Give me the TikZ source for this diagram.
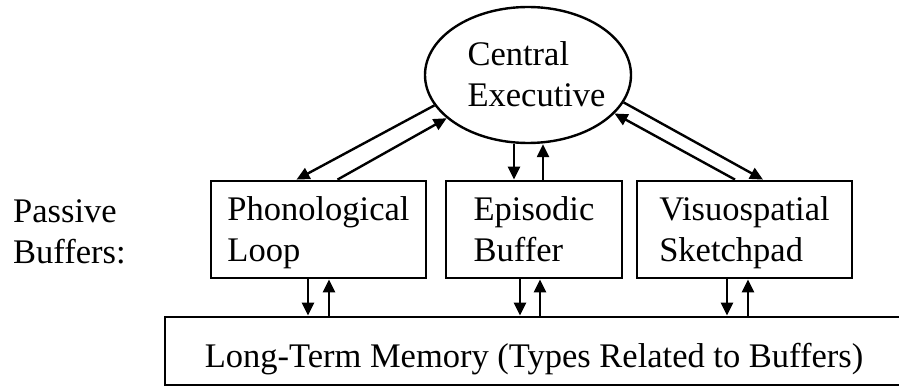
\documentclass[tikz,border=0pt]{standalone}
\usepackage{fontspec}
\setmainfont{Liberation Serif}
\newfontfamily\diagfont{Liberation Serif}
\usetikzlibrary{shapes.geometric,arrows.meta}
\begin{document}
\begin{tikzpicture}[x=1pt, y=-1pt,
      every node/.style = {font=\diagfont\fontsize{34.5}{41}\selectfont, align=left},
      buffer/.style = {draw, line width=2.8pt, shape=rectangle, text depth=0pt,
                       minimum width=215pt, minimum height=97pt},
      link/.style = {line width=2.4pt, -{Triangle[length=13pt,width=12pt]}}]
    \useasboundingbox (0,0) rectangle (899,387);
    \node[draw, line width=2.4pt, shape=ellipse, minimum width=206pt, minimum height=136pt] (ce) at (528,75) {};
    \node (ce label) at (536.5,74) {Central\\Executive};
    \node[anchor=west, inner sep=0pt] (passive) at (13,232) {Passive\\Buffers:};
    \node[buffer] (phon) at (318.5,229.5) {Phonological\\Loop};
    \node[buffer, minimum width=176pt] (epi) at (534,229.5) {Episodic\\Buffer};
    \node[buffer] (visuo) at (744.5,229.5) {Visuospatial\\Sketchpad};
    \node[buffer, minimum width=738pt, minimum height=68pt] (ltm) at (534,351) {};
    \node[anchor=base] (ltm label) at (534,367) {Long-Term Memory (Types Related to Buffers)};
    \draw[link] (ce.198) -- ([xshift=-22pt]phon.north);
    \draw[link] ([xshift=19pt]phon.north) -- (ce.208);
    \draw[link] ([xshift=-20pt]epi.north |- ce.south) -- ([xshift=-20pt]epi.north);
    \draw[link] ([xshift=9pt]epi.north) -- ([xshift=9pt]epi.north |- ce.south);
    \draw[link] (ce.344) -- ([xshift=18.5pt]visuo.north);
    \draw[link] ([xshift=-9.5pt]visuo.north) -- (ce.336);
    \foreach \b/\d/\u in {phon/-10.5/10.5, epi/-14/6, visuo/-17.5/3.5} {
      \draw[link] ([xshift=\d pt]\b.south) -- ([xshift=\d pt]\b.south |- ltm.north);
      \draw[link] ([xshift=\u pt]\b.south |- ltm.north) -- ([xshift=\u pt]\b.south);
    }
\end{tikzpicture}
\end{document}
